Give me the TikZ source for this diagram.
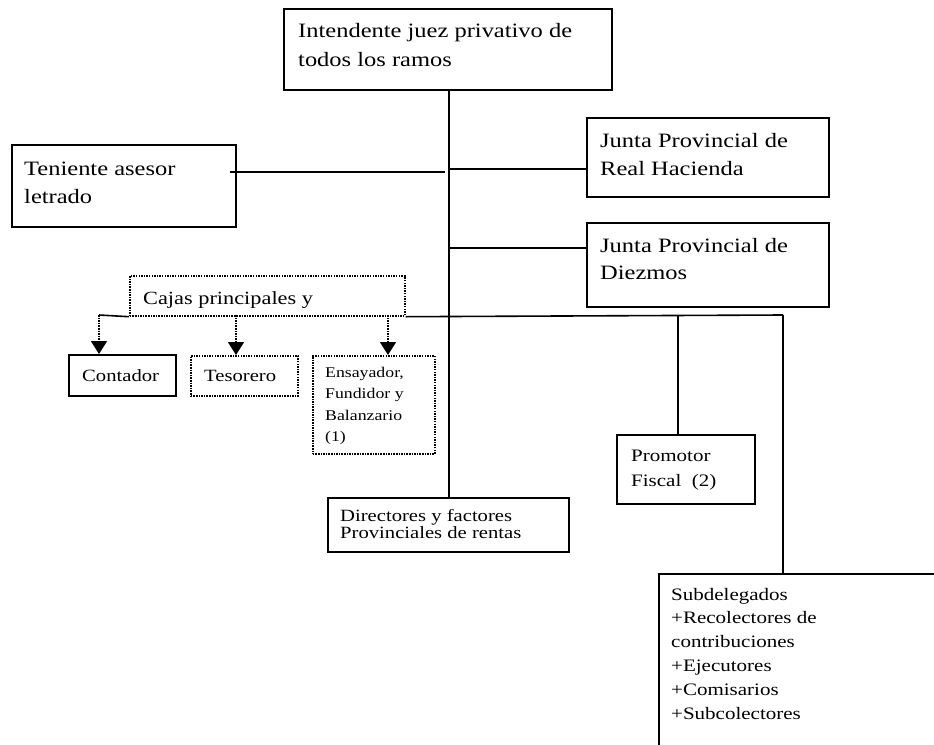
\documentclass[tikz,border=0pt]{standalone}
\usepackage{fontspec}
\setmainfont{Liberation Serif}[FakeStretch=1.2]
\usetikzlibrary{arrows.meta}
\newcommand\ptxt[3]{\parbox[t]{400pt}{\fontsize{#1}{#2}\selectfont\raggedright #3}}
\tikzset{
  bx/.style={draw, line width=1.6pt, inner sep=0pt, anchor=north west},
  dbx/.style={bx, line width=1.7pt, dash pattern=on 1.5pt off 1.1pt},
  tx/.style={anchor=base west, inner sep=0pt},
  ln/.style={line width=1.6pt},
  dar/.style={line width=1.7pt, dash pattern=on 1.5pt off 1.1pt, -{Triangle[width=16pt,length=13pt]}}
}
\begin{document}
\begin{tikzpicture}[x=1pt,y=-1pt]
\useasboundingbox (0,0) rectangle (934,744);
\clip (0,0) rectangle (934,744);
% boxes
\node[bx, minimum width=328pt, minimum height=81pt] (top) at (283,8) {};
\node[tx] (topt) at (298,37) {\ptxt{20.4}{29}{Intendente juez privativo de\\todos los ramos}};
\node[bx, minimum width=224pt, minimum height=82pt] (ten) at (11,144) {};
\node[tx] (tent) at (24,175) {\ptxt{20.4}{28}{Teniente asesor\\letrado}};
\node[bx, minimum width=242pt, minimum height=79pt] (jrh) at (586,117) {};
\node[tx] (jrht) at (600,147) {\ptxt{20.4}{28}{Junta Provincial de\\Real Hacienda}};
\node[bx, minimum width=242pt, minimum height=84pt] (jd) at (586,222) {};
\node[tx] (jdt) at (600,252) {\ptxt{20.4}{27}{Junta Provincial de\\Diezmos}};
\node[dbx, minimum width=275pt, minimum height=40pt] (cajas) at (129,275) {};
\node[tx] (cajast) at (143,304) {\ptxt{18.6}{22}{Cajas principales y}};
\node[bx, minimum width=107pt, minimum height=41pt] (cont) at (68,354) {};
\node[tx] (contt) at (82,381) {\ptxt{17.2}{17}{Contador}};
\node[dbx, minimum width=107pt, minimum height=40pt] (teso) at (190,355) {};
\node[tx] (tesot) at (204,381) {\ptxt{17.2}{17}{Tesorero}};
\node[dbx, minimum width=122pt, minimum height=98pt] (ens) at (312,355) {};
\node[tx] (enst) at (325,377) {\ptxt{14.8}{21.5}{Ensayador,\\Fundidor y\\Balanzario\\(1)}};
\node[bx, minimum width=241pt, minimum height=54pt] (dir) at (327,497) {};
\node[tx] (dirt) at (340,521) {\ptxt{17.2}{17}{Directores y factores\\Provinciales de rentas}};
\node[bx, minimum width=138pt, minimum height=69pt] (prom) at (616,434) {};
\node[tx] (promt) at (631,461) {\ptxt{17.5}{25}{Promotor\\Fiscal\ \ (2)}};
\node[bx, minimum width=300pt, minimum height=200pt] (sub) at (658,573) {};
\node[tx] (subt) at (671,600) {\ptxt{17.5}{23.8}{Subdelegados\\+Recolectores de\\contribuciones\\+Ejecutores\\+Comisarios\\+Subcolectores}};
% coordinates
\coordinate (sp) at (449,0);
\coordinate (tenR) at (230,172);
\coordinate (tenE) at (445,172);
\coordinate (jrhL) at (586,169);
\coordinate (jdL) at (586,248);
\coordinate (busL) at (99,315);
\coordinate (busR) at (783,315);
\coordinate (a2) at (236,315);
\coordinate (a3) at (388,315);
\coordinate (pr) at (678,315);
% connectors
\draw[ln] (sp |- top.south) -- (sp |- dir.north);
\draw[ln] (tenR) -- (tenE);
\draw[ln] (sp |- jrhL) -- (jrhL);
\draw[ln] (sp |- jdL) -- (jdL);
\draw[ln] (busL) -- (cajas.south west);
\draw[ln] (cajas.south east) -- (busR);
\draw[dar] (busL) -- (busL |- cont.north);
\draw[dar] (a2) -- (a2 |- teso.north);
\draw[dar] (a3) -- (a3 |- ens.north);
\draw[ln] (pr) -- (pr |- prom.north);
\draw[ln] (busR) -- (busR |- sub.north);
\end{tikzpicture}
\end{document}
